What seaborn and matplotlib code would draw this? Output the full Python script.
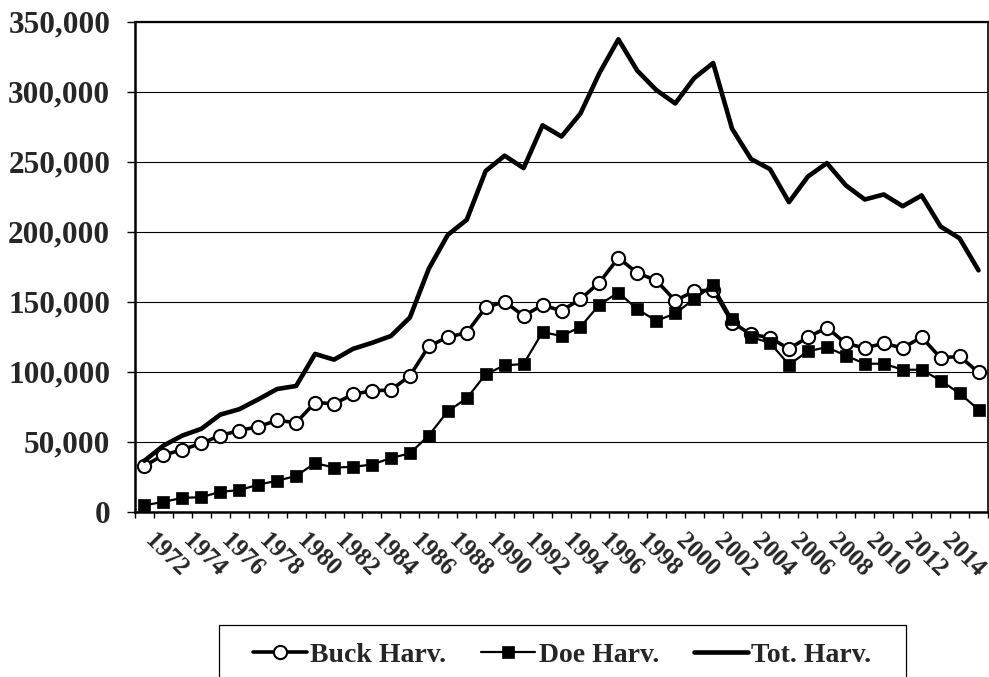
import numpy as np
import pandas as pd
import matplotlib
matplotlib.use("Agg")
import matplotlib.pyplot as plt
from matplotlib.patches import Rectangle
from matplotlib.ticker import FuncFormatter
import seaborn as sns

# ---- data ----
years = list(range(1972, 2017))
buck = [32750, 40450, 44300, 48900, 54400, 58000, 60700, 65300, 63600, 78000,
        77100, 83800, 86400, 86900, 97000, 118200, 124700, 127900, 145900, 150000,
        139900, 147600, 143500, 151900, 163700, 181300, 170500, 165200, 150700, 157500,
        158400, 135100, 126700, 124300, 116300, 124700, 131500, 120200, 117000, 120200,
        117000, 124700, 109800, 111000, 99500]
doe = [4600, 7000, 9900, 10350, 14200, 15400, 19300, 22150, 25500, 34700,
       31550, 32000, 33700, 38300, 41700, 54400, 71800, 80900, 98200, 104500,
       105500, 128300, 125500, 132000, 147900, 156500, 144700, 136300, 141600, 151900,
       161600, 137500, 124700, 120600, 105000, 114600, 117500, 111500, 105700, 105700,
       101400, 101400, 93700, 84500, 73000]
tot = [36400, 47200, 54400, 59200, 69350, 73200, 80200, 87650, 89800, 112700,
       108600, 116300, 120600, 125500, 138700, 173600, 197700, 208500, 243400, 254300,
       245400, 276000, 268000, 284400, 313300, 337400, 315000, 301200, 291600, 309700,
       320500, 273500, 251900, 244700, 221100, 239400, 249000, 233100, 223000, 226600,
       218200, 225900, 203700, 195300, 172400]
label_years = list(range(1972, 2015, 2))
series_names = ["Buck Harv.", "Doe Harv.", "Tot. Harv."]

sns.set_theme(style="white")
plt.rcParams["font.family"] = ["Liberation Serif", "DejaVu Serif"]
plt.rcParams["font.weight"] = "bold"

W, H = 989, 677
fig = plt.figure(figsize=(W / 100, H / 100), dpi=100)
ax = fig.add_axes([135 / W, (H - 511.7) / H, (988 - 135) / W, (511.7 - 21.7) / H])

df = pd.DataFrame({"Year": years, "Buck": buck, "Doe": doe, "Tot": tot})

sns.lineplot(data=df, x="Year", y="Buck", ax=ax, color="black", linewidth=2.6,
             marker="o", markersize=9.5, markerfacecolor="white",
             markeredgecolor="black", markeredgewidth=1.5, label=series_names[0])
sns.lineplot(data=df, x="Year", y="Doe", ax=ax, color="black", linewidth=1.6,
             marker="s", markersize=8, markerfacecolor="black",
             markeredgecolor="black", markeredgewidth=0.5, label=series_names[1])
sns.lineplot(data=df, x="Year", y="Tot", ax=ax, color="black", linewidth=3.3,
             label=series_names[2])

ax.set_xlim(years[0] - 0.5, years[-1] + 0.5)
ax.set_ylim(0, 350000)
ax.set_xlabel("")
ax.set_ylabel("")

# y axis
ax.set_yticks(np.arange(0, 350001, 50000))
ax.yaxis.set_major_formatter(FuncFormatter(lambda v, p: f"{int(v):,}"))
ax.tick_params(axis="y", which="major", length=5.8, width=1, color="black",
               direction="out", pad=12, labelsize=22.5, left=True)
for t in ax.get_yticklabels():
    t.set_fontweight("bold")
ax.yaxis.grid(True, color="black", linewidth=0.8)
ax.xaxis.grid(False)

# x axis: ticks at category boundaries, labels at centers
ax.set_xticks(np.arange(years[0] - 0.5, years[-1] + 1, 1))
ax.set_xticklabels([])
ax.tick_params(axis="x", which="major", length=4.5, width=1, color="black",
               direction="out", bottom=True)
ax.set_xticks(label_years, minor=True)
ax.set_xticklabels([str(y) for y in label_years], minor=True, rotation=-45,
                   ha="left", va="baseline", rotation_mode="anchor",
                   fontsize=18, fontweight="bold")
ax.tick_params(axis="x", which="minor", length=0, pad=22)

for side, lw in [("left", 1.8), ("bottom", 1.8), ("top", 1.6), ("right", 1.2)]:
    ax.spines[side].set_visible(True)
    ax.spines[side].set_color("black")
    ax.spines[side].set_linewidth(lw)

# legend
handles, labels = ax.get_legend_handles_labels()
if ax.get_legend() is not None:
    ax.get_legend().remove()
leg = fig.legend(handles, labels, loc="center",
                 bbox_to_anchor=(562 / W, (H - 655) / H), ncol=3, frameon=False,
                 prop={"family": ["Liberation Serif"], "weight": "bold", "size": 20},
                 handlelength=1.95, handletextpad=0.12, columnspacing=1.25,
                 numpoints=1)
fig.add_artist(Rectangle((219 / W, -0.05), (906 - 219) / W, (H - 625) / H + 0.05,
                         transform=fig.transFigure, fill=False,
                         edgecolor="black", linewidth=0.9))

fig.savefig("out.png", dpi=100)
